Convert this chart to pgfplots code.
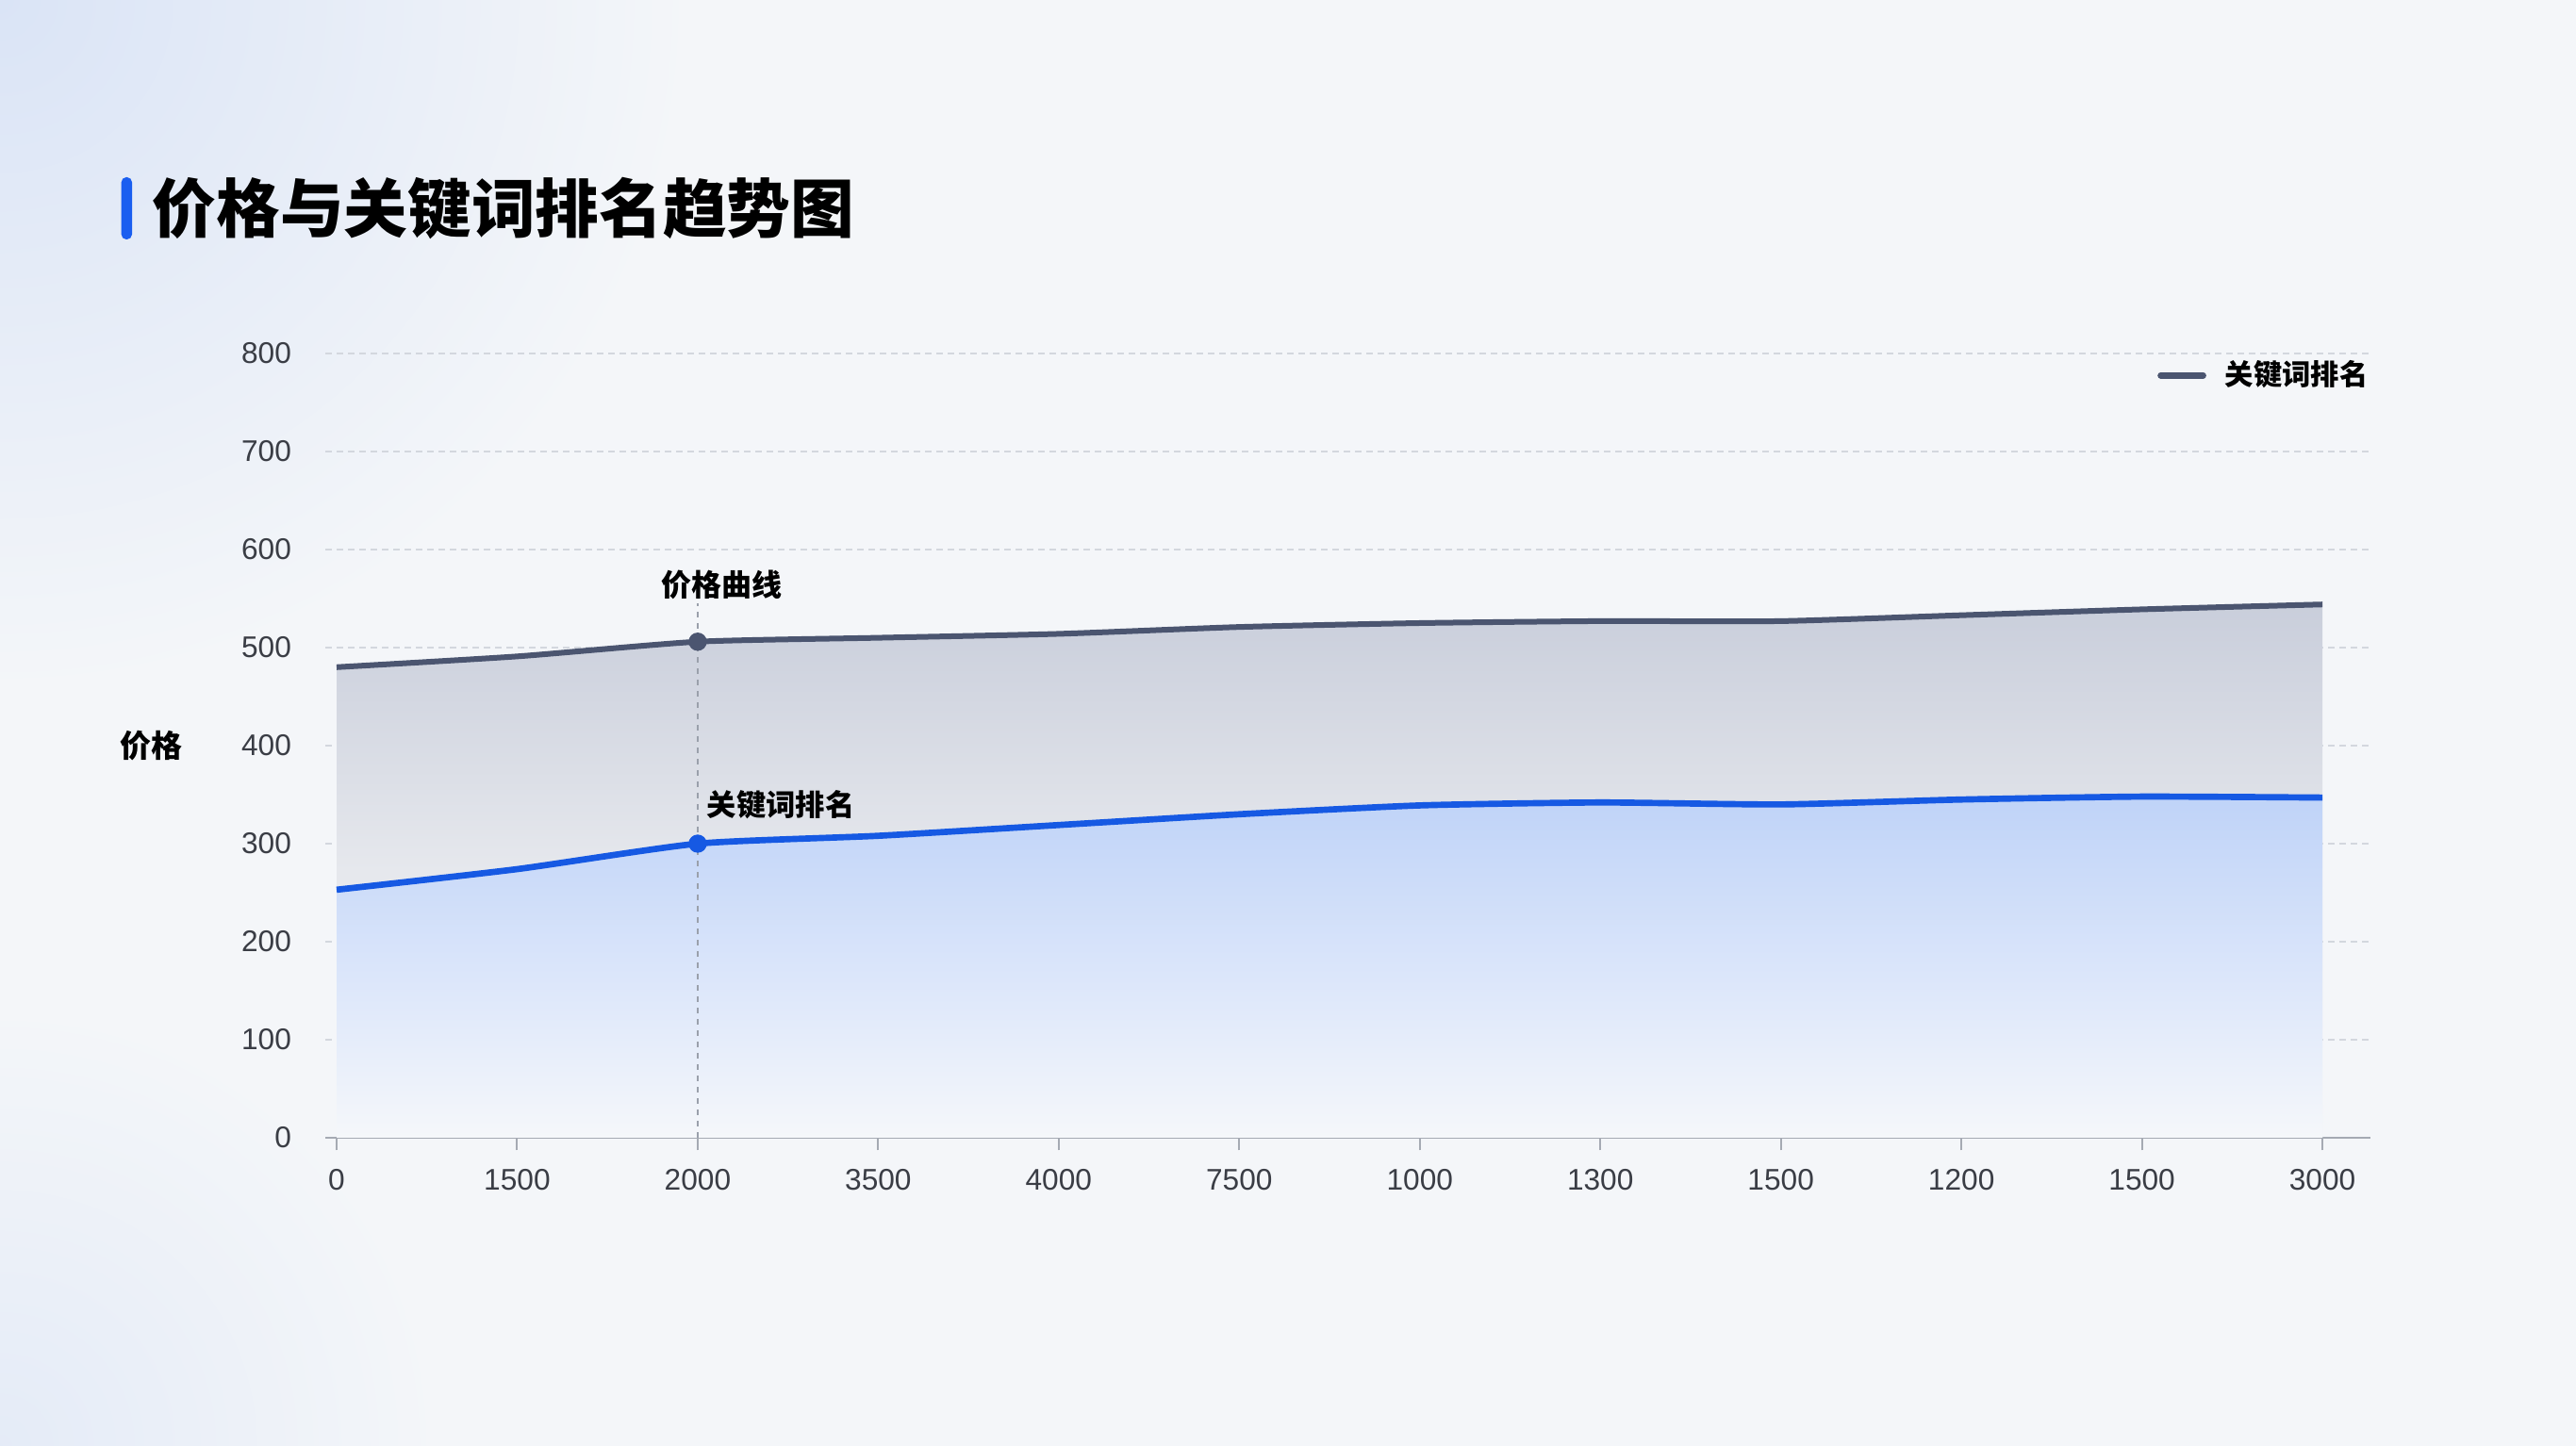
\documentclass[border=0pt]{standalone}
\usepackage{fontspec}
\setmainfont{Liberation Sans}
\newfontfamily\cjk{Noto Sans CJK SC}
\usepackage{pgfplots}
\pgfplotsset{compat=1.18}
\definecolor{bg}{HTML}{F4F6F9}
\definecolor{bgblue}{HTML}{DAE4F6}
\definecolor{grayline}{HTML}{4B5570}
\definecolor{blueline}{HTML}{1659E3}
\definecolor{gridc}{HTML}{D3D7DE}
\definecolor{axisc}{HTML}{A5AAB3}
\definecolor{tickc}{HTML}{3A3D45}
\definecolor{titleblue}{HTML}{1A5EF0}
\definecolor{vlinec}{HTML}{9AA0AB}
\definecolor{gtop}{HTML}{C9CEDB}
\definecolor{gmid}{HTML}{E6E8ED}
\definecolor{gbot}{HTML}{F2F3F6}
\definecolor{btop}{HTML}{BFD3F8}
\definecolor{bmid}{HTML}{DAE5FA}
\definecolor{bbot}{HTML}{F5F7FA}
\pgfdeclareverticalshading{grayfade}{100bp}{color(0bp)=(gbot); color(25bp)=(gbot); color(50bp)=(gmid); color(75bp)=(gtop); color(100bp)=(gtop)}
\pgfdeclareverticalshading{bluefade}{100bp}{color(0bp)=(bbot); color(25bp)=(bbot); color(50bp)=(bmid); color(75bp)=(btop); color(100bp)=(btop)}

\pgfplotstableread{
x y
0 480
1 491
2 506
3 510
4 514
5 521
6 525
7 527
8 527
9 533
10 539
11 544
}\pricedata
\pgfplotstableread{
x y
0 253
1 274
2 300
3 308
4 319
5 330
6 339
7 342
8 340
9 345
10 348
11 347
}\rankdata

\begin{document}
\begin{tikzpicture}
\useasboundingbox (0,0) rectangle (819.6pt,460.2pt);
\fill[bg] (0,0) rectangle (819.6pt,460.2pt);
\begin{scope}
\clip (0,0) rectangle (819.6pt,460.2pt);
\shade[inner color=bgblue, outer color=bg] (0pt,460.2pt) circle (220pt);
\shade[inner color=bgblue!60!bg, outer color=bg] (0pt,0pt) circle (140pt);
\end{scope}
% title
\fill[titleblue, rounded corners=1.6pt] (38.6pt,384pt) rectangle (42pt,403.8pt);
\node[anchor=west, inner sep=0pt] at (48.3pt,393.9pt) {\cjk\bfseries\fontsize{20.3pt}{24pt}\selectfont 价格与关键词排名趋势图};
% y label
\node[inner sep=0pt] at (48pt,222.9pt) {\cjk\bfseries\fontsize{9.9pt}{12pt}\selectfont 价格};
\begin{axis}[
  at={(103.5pt,98.1pt)}, anchor=south west,
  width=650.7pt, height=249.6pt, scale only axis,
  xmin=-0.0627, xmax=11.266, ymin=0, ymax=800,
  axis x line*=bottom, axis y line*=left,
  x axis line style={-, draw=axisc, line width=0.8pt},
  y axis line style={draw=none},
  xtick={0,...,11},
  xticklabels={0,1500,2000,3500,4000,7500,1000,1300,1500,1200,1500,3000},
  ytick={0,100,...,800},
  tick align=outside, major tick length=4pt,
  xtick style={draw=axisc, line width=0.6pt},
  ytick style={draw=none},
  ymajorgrids,
  major grid style={draw=gridc, line width=0.5pt, dash pattern=on 2pt off 1.6pt},
  /pgf/number format/assume math mode=true,
  yticklabel style={font=\fontsize{9.5pt}{11pt}\selectfont, text=tickc, xshift=-3.3pt},
  xticklabel style={font=\fontsize{9.5pt}{11pt}\selectfont, text=tickc, yshift=-2.6pt},
  clip=false,
  legend style={at={(rel axis cs:0.8956,0.972)}, anchor=west, draw=none, fill=none,
    inner sep=0pt, font=\cjk\bfseries\fontsize{9.1pt}{10pt}\selectfont,
    /tikz/every odd column/.append style={column sep=4pt}},
  legend cell align=left,
  legend image code/.code={\draw[#1, line width=2pt, line cap=round] (0pt,0pt) -- (13.5pt,0pt);},
]
\addplot[draw=none, shade, shading=grayfade, smooth, tension=0.35, forget plot] table[x=x,y=y] {\pricedata} \closedcycle;
\addplot[draw=none, shade, shading=bluefade, smooth, tension=0.35, forget plot] table[x=x,y=y] {\rankdata} \closedcycle;
\addplot[vlinec, line width=0.5pt, dash pattern=on 1.8pt off 1.8pt, forget plot] coordinates {(2,0) (2,545)};
\addplot[grayline, line width=1.8pt, smooth, tension=0.35, mark=none] table[x=x,y=y] {\pricedata};
\addlegendentry{关键词排名}
\addplot[blueline, line width=2pt, smooth, tension=0.35, mark=none, forget plot] table[x=x,y=y] {\rankdata};
\addplot[only marks, mark=*, mark size=2.7pt, grayline, forget plot] coordinates {(2,506)};
\addplot[only marks, mark=*, mark size=2.7pt, blueline, forget plot] coordinates {(2,300)};
\node[inner sep=0pt, font=\cjk\bfseries\fontsize{9.6pt}{11pt}\selectfont] at (axis cs:2,564) [xshift=7.8pt] {价格曲线};
\node[inner sep=0pt, font=\cjk\bfseries\fontsize{9.4pt}{11pt}\selectfont] at (axis cs:2,340) [xshift=26.5pt] {关键词排名};
\end{axis}
\end{tikzpicture}
\end{document}
